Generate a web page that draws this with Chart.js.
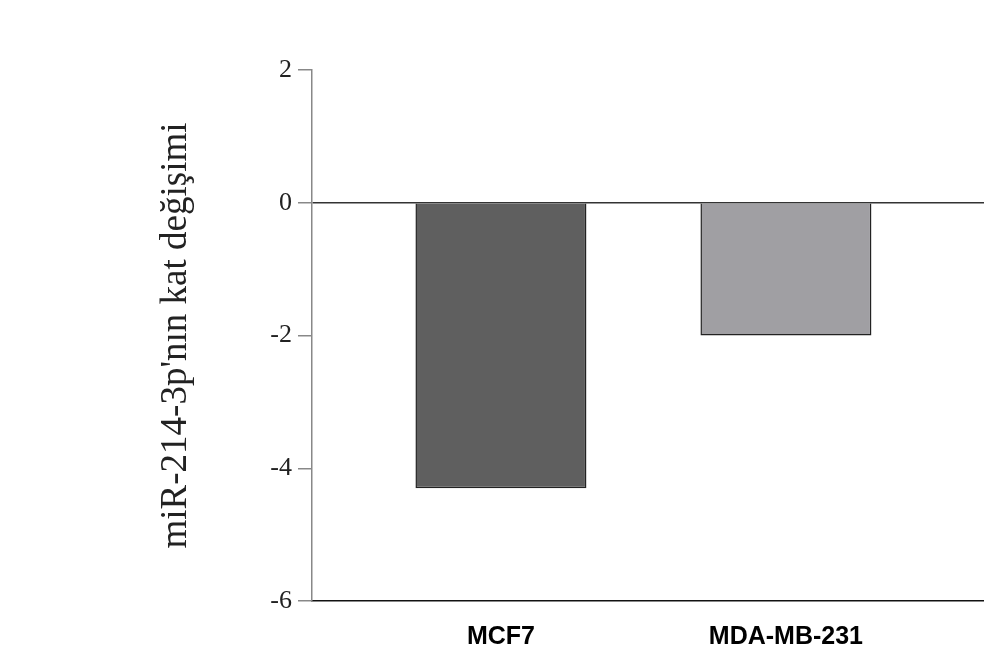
<!DOCTYPE html>
<html>
<head>
<meta charset="utf-8">
<script src="https://cdn.jsdelivr.net/npm/chart.js@4"></script>
<style>
  html, body { margin: 0; padding: 0; background: #ffffff; }
  #wrap { width: 984px; height: 652px; position: relative; }
</style>
</head>
<body>
<div id="wrap"><canvas id="c" width="984" height="652"></canvas></div>
<script>
// ---- data ----
const categories = ['MCF7', 'MDA-MB-231'];
const foldChange = [-4.3, -2.0];
const barColors = ['#5f5f5f', '#a09fa3'];
const yTicks = [2, 0, -2, -4, -6];
const yTitle = "miR-214-3p'nın kat değişimi";

const points = categories.map((c, i) => ({ x: i + 1, y: foldChange[i] }));

new Chart(document.getElementById('c'), {
  type: 'bar',
  data: {
    datasets: [{
      data: points,
      backgroundColor: barColors,
      borderColor: '#222222',
      borderWidth: 1.5,
      barPercentage: 0.6,
      categoryPercentage: 1.0
    }]
  },
  options: {
    responsive: false,
    animation: false,
    layout: { padding: { top: 70, right: 0, left: 0, bottom: 0 } },
    plugins: { legend: { display: false }, tooltip: { enabled: false } },
    scales: {
      x: {
        type: 'linear',
        min: 0.337,
        max: 2.695,
        offset: false,
        bounds: 'data',
        afterBuildTicks: (s) => { s.ticks = categories.map((c, i) => ({ value: i + 1 })); },
        afterFit: (s) => { s.height = 51; },
        grid: { display: false, drawTicks: false },
        border: { display: true, color: '#111111', width: 1.5 },
        ticks: {
          padding: 21,
          color: '#000000',
          maxRotation: 0,
          autoSkip: false,
          font: { family: 'Liberation Sans', size: 25, weight: 'bold' },
          callback: (v) => categories[v - 1] || ''
        }
      },
      y: {
        min: -6,
        max: 2,
        afterBuildTicks: (s) => { s.ticks = yTicks.map(v => ({ value: v })); },
        afterFit: (s) => { s.width = 312; },
        grid: {
          drawOnChartArea: true,
          color: (ctx) => (ctx.tick && ctx.tick.value === 0) ? '#333333' : 'rgba(0,0,0,0)',
          lineWidth: 1.5,
          tickColor: '#888888',
          tickLength: 14
        },
        border: { display: true, color: '#888888', width: 1.5 },
        ticks: {
          padding: 6,
          color: '#222222',
          font: { family: 'Liberation Serif', size: 26 }
        },
        title: {
          display: true,
          text: yTitle,
          color: '#222222',
          font: { family: 'Liberation Serif', size: 37, lineHeight: 1 },
          padding: { top: 158, bottom: 0 }
        }
      }
    }
  }
});
</script>
</body>
</html>
